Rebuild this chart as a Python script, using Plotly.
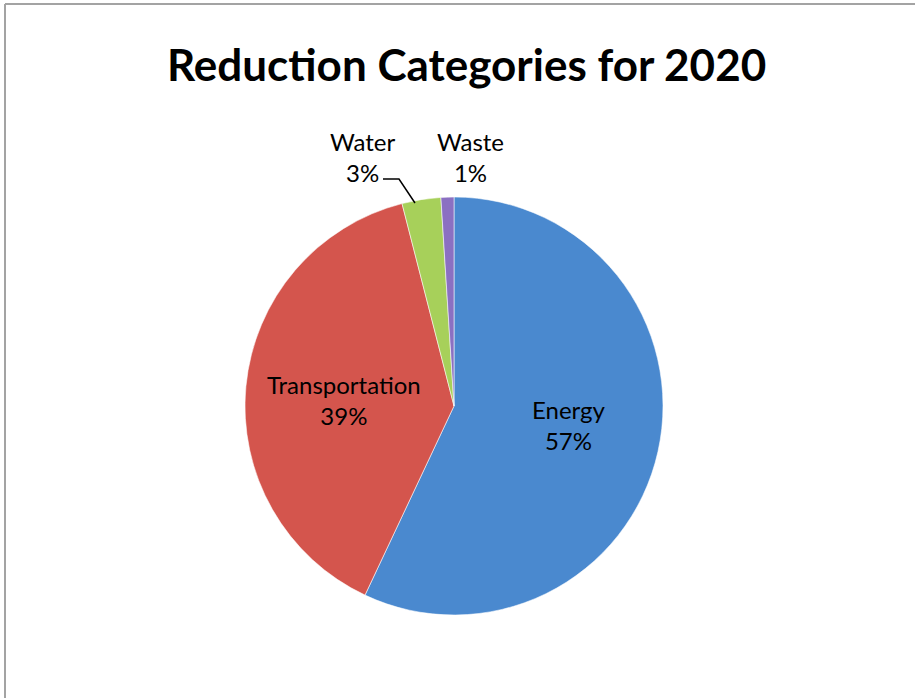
import plotly.graph_objects as go

# Reduction categories and their share of the 2020 target (%)
categories = ["Energy", "Transportation", "Water", "Waste"]
shares = [57, 39, 3, 1]
colors = ["#4a89cf", "#d4554d", "#a7d05a", "#8b70c2"]

W, H = 915, 698
cx, cy, r = 454, 406, 209  # pie centre and radius in pixels

fig = go.Figure(go.Pie(
    labels=categories,
    values=shares,
    sort=False,
    direction="clockwise",
    rotation=0,
    marker=dict(colors=colors, line=dict(color="rgba(255,255,255,0.55)", width=1)),
    textinfo="none",
    hoverinfo="label+percent",
    showlegend=False,
    domain=dict(x=[(cx - r) / W, (cx + r) / W], y=[1 - (cy + r) / H, 1 - (cy - r) / H]),
))

# label anchor points (pixels) for each category
label_pos = {
    "Energy": (569, 425),
    "Transportation": (344, 400),
    "Water": (362, 157),
    "Waste": (470, 157),
}

annotations = []
for name, val in zip(categories, shares):
    x, y = label_pos[name]
    annotations.append(dict(
        x=x / W, y=1 - y / H, xref="paper", yref="paper",
        text=f"{name}<br>{val}%", showarrow=False,
        font=dict(family="Lato, Carlito, sans-serif", size=24, color="#000000"),
        align="center", xanchor="center", yanchor="middle",
    ))

annotations.append(dict(
    x=466 / W, y=1 - 64 / H, xref="paper", yref="paper",
    text="<b>Reduction Categories for 2020</b>", showarrow=False,
    font=dict(family="Lato, Carlito, sans-serif", size=44, color="#000000"),
    xanchor="center", yanchor="middle",
))

shapes = [
    # chart frame (left and top edges)
    dict(type="line", xref="paper", yref="paper", x0=5 / W, x1=5 / W, y0=0, y1=1 - 4 / H,
         line=dict(color="#a3a3a3", width=2)),
    dict(type="line", xref="paper", yref="paper", x0=5 / W, x1=1, y0=1 - 4 / H, y1=1 - 4 / H,
         line=dict(color="#a3a3a3", width=2)),
    # leader line for the Water label
    dict(type="path", xref="paper", yref="paper",
         path=f"M {383 / W},{1 - 179 / H} L {399 / W},{1 - 179 / H} L {415 / W},{1 - 203 / H}",
         line=dict(color="#000000", width=1.5)),
]

fig.update_layout(
    width=W, height=H,
    margin=dict(l=0, r=0, t=0, b=0),
    paper_bgcolor="white", plot_bgcolor="white",
    annotations=annotations,
    shapes=shapes,
)

fig.write_html("out.html")
